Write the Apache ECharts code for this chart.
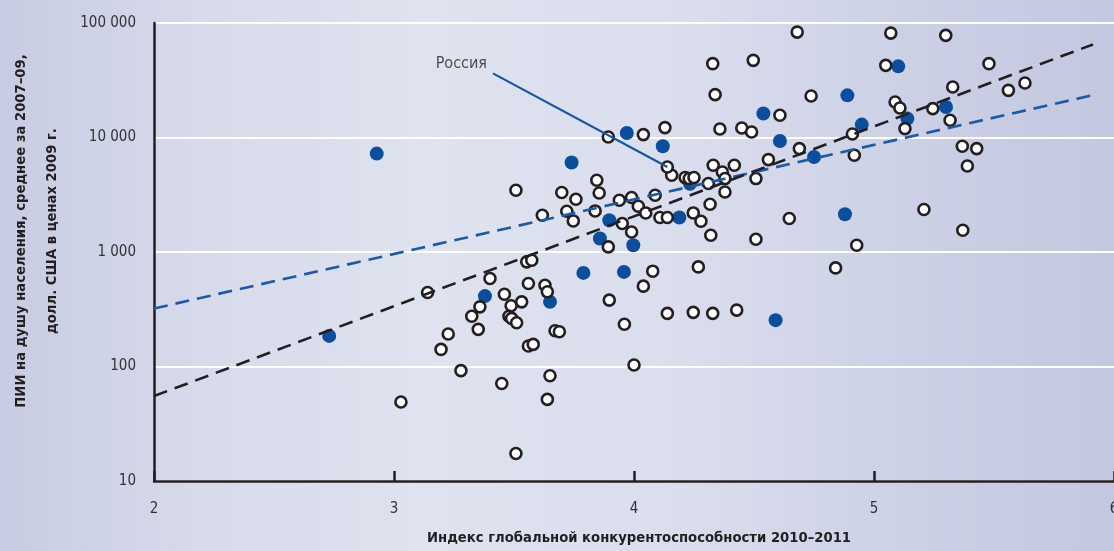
<!DOCTYPE html>
<html>
<head>
<meta charset="utf-8">
<script src="https://cdn.jsdelivr.net/npm/echarts@6/dist/echarts.min.js"></script>
<style>
html,body{margin:0;padding:0;}
body{width:1114px;height:551px;overflow:hidden;
background:linear-gradient(to right,#c8cce2 0%,#d6daea 18%,#dfe3ef 38%,#dadeed 60%,#ccd0e5 82%,#c3c8e0 100%);}
#c{width:1114px;height:551px;}
</style>
</head>
<body>
<div id="c"></div>
<script>
// ---- data ----
const xTickLabels = ['2', '3', '4', '5', '6'];
const yTickValues = [10, 100, 1000, 10000, 100000];
const yTickLabels = ['10', '100', '1 000', '10 000', '100 000'];

const openX = [3.029,3.140,3.196,3.226,3.279,3.324,3.351,3.358,3.400,3.449,3.460,3.488,3.479,3.490,3.511,3.508,3.508,3.532,3.553,3.574,3.560,3.560,3.580,3.618,3.629,3.639,3.639,3.650,3.671,3.689,3.699,3.720,3.747,3.758,3.845,3.855,3.838,3.893,3.893,3.897,3.939,3.951,3.960,3.990,3.990,4.000,4.018,4.039,4.039,4.049,4.078,4.088,4.108,4.139,4.129,4.139,4.157,4.213,4.230,4.250,4.247,4.247,4.268,4.279,4.310,4.317,4.320,4.328,4.338,4.330,4.328,4.358,4.368,4.379,4.379,4.418,4.428,4.449,4.490,4.497,4.508,4.508,4.560,4.608,4.647,4.680,4.689,4.738,4.840,4.910,4.918,4.928,5.049,5.070,5.088,5.108,5.129,5.208,5.245,5.299,5.317,5.328,5.368,5.370,5.389,5.428,5.479,5.560,5.629];
const openY = [49,443,141,192,92,275,211,332,587,71,428,339,275,263,241,17.4,3460,367,820,848,531,151,156,2095,513,449,51.6,83,205,201,3305,2270,1868,2889,4231,3279,2284,10100,1108,380,2831,1774,234,2990,1497,103,2510,10600,503,2194,680,3131,2000,2000,12200,291,4680,4467,4378,4467,2194,297,741,1857,3961,2613,1402,44150,23670,5719,291,11870,5000,4378,3345,5719,311,12110,11170,47190,4378,1293,6415,15630,1960,83300,8000,23020,726,10730,6994,1146,42660,81640,20410,18080,11960,2349,17870,77940,14130,27600,8380,1550,5640,8000,44150,25820,29900];

const blueX = [2.730,2.928,3.379,3.650,3.740,3.789,3.858,3.897,3.958,3.970,3.997,4.120,4.189,4.233,4.539,4.590,4.608,4.750,4.879,4.889,4.949,5.101,5.139,5.300];
const blueY = [185,7236,412,367,6040,657,1312,1895,670,10950,1146,8380,2000,3945,16180,254,9322,6760,2137,23350,12960,41810,14620,18460];

const russiaName = 'Россия';
const russiaX = 4.139, russiaY = 5527;
const russiaLabelX = 3.4125, russiaLabelY = 36300;

const trendAllX = [2, 5.9125], trendAllY = [55.2, 65000];
const trendBlueX = [2, 5.92], trendBlueY = [321, 23650];

const xTitle = 'Индекс глобальной конкурентоспособности 2010–2011';
const yTitle1 = 'ПИИ на душу населения, среднее за 2007–09,';
const yTitle2 = 'долл. США в ценах 2009 г.';

// ---- chart ----
const FONT = "'DejaVu Sans Condensed','Liberation Sans Narrow',sans-serif";
const INK = '#231f20';
const BLUE = '#0b4f9c';
const zip = (a, b) => a.map((v, i) => [v, b[i]]);
const allOpen = zip(openX, openY).concat([[russiaX, russiaY]]);

const chart = echarts.init(document.getElementById('c'), null, {renderer: 'canvas'});
chart.setOption({
  animation: false,
  backgroundColor: 'transparent',
  grid: {left: 154, right: 0, top: 23, bottom: 70, containLabel: false, outerBoundsMode: 'none'},
  xAxis: {
    type: 'value', min: 2, max: 6, interval: 1,
    axisLine: {show: true, lineStyle: {color: INK, width: 2.5}},
    axisTick: {show: true, inside: true, length: 10, lineStyle: {color: INK, width: 2.5}},
    splitLine: {show: false},
    axisLabel: {color: '#333333', fontSize: 15, fontFamily: FONT, margin: 21,
      formatter: v => xTickLabels[Math.round(v) - 2]}
  },
  yAxis: {
    type: 'log', logBase: 10, min: 10, max: 100000,
    axisLine: {show: true, onZero: false, lineStyle: {color: INK, width: 2.5}},
    axisTick: {show: false},
    splitLine: {show: true, lineStyle: {color: '#ffffff', width: 2}},
    axisLabel: {color: '#333333', fontSize: 15, fontFamily: FONT, margin: 18,
      formatter: v => { const i = yTickValues.indexOf(Math.round(v)); return i >= 0 ? yTickLabels[i] : ''; }}
  },
  graphic: [
    {type: 'text', x: 639, y: 538, style: {text: xTitle, font: 'bold 14.7px ' + FONT, fill: INK,
      align: 'center', verticalAlign: 'middle', textAlign: 'center', textVerticalAlign: 'middle'}},
    {type: 'text', x: 21, y: 231, rotation: Math.PI / 2, style: {text: yTitle1, font: 'bold 14.7px ' + FONT, fill: INK,
      align: 'center', verticalAlign: 'middle', textAlign: 'center', textVerticalAlign: 'middle'}},
    {type: 'text', x: 52, y: 231, rotation: Math.PI / 2, style: {text: yTitle2, font: 'bold 14.7px ' + FONT, fill: INK,
      align: 'center', verticalAlign: 'middle', textAlign: 'center', textVerticalAlign: 'middle'}}
  ],
  series: [
    {type: 'line', data: zip(trendBlueX, trendBlueY), symbol: 'none', silent: true,
      lineStyle: {color: '#1a5aa6', width: 2.6, type: [14, 8]}},
    {type: 'line', data: zip(trendAllX, trendAllY), symbol: 'none', silent: true,
      lineStyle: {color: INK, width: 2.6, type: [14, 8]}},
    {type: 'line', data: [[russiaLabelX, russiaLabelY], [russiaX, russiaY]], symbol: 'none', silent: true,
      lineStyle: {color: '#1556a2', width: 2.2}},
    {type: 'scatter', data: [[russiaLabelX, russiaLabelY]], symbolSize: 0, silent: true,
      label: {show: true, formatter: russiaName, position: 'left', distance: 6, offset: [0, -10],
        color: INK, fontSize: 16, fontFamily: FONT}},
    {type: 'scatter', data: zip(blueX, blueY), symbol: 'circle', symbolSize: 14, silent: true,
      itemStyle: {color: BLUE, opacity: 1}},
    {type: 'scatter', data: allOpen, symbol: 'circle', symbolSize: 11, silent: true,
      itemStyle: {color: '#ffffff', borderColor: INK, borderWidth: 2.6, opacity: 1}}
  ]
});
</script>
</body>
</html>
